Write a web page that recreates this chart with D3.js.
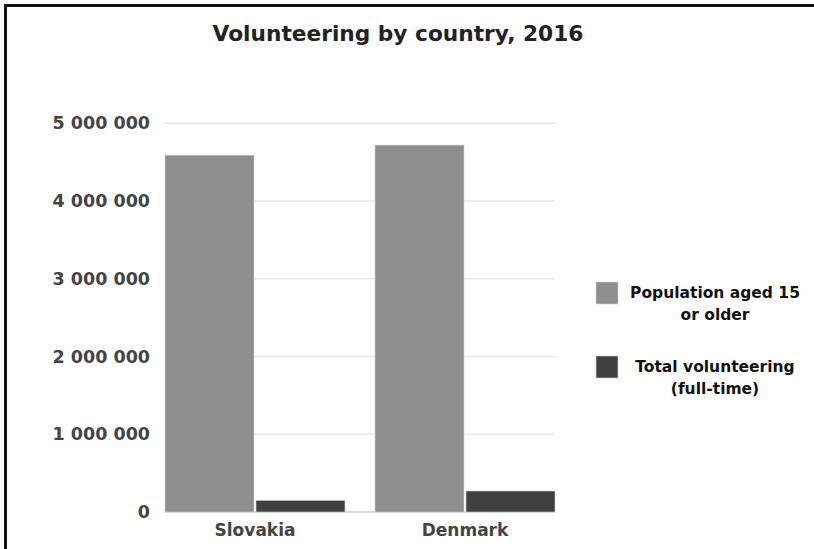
<!DOCTYPE html>
<html>
<head>
<meta charset="utf-8">
<script src="https://cdn.jsdelivr.net/npm/d3@7"></script>
<style>
  body { margin: 0; background: #fff; }
  text { font-family: "DejaVu Sans", sans-serif; font-weight: bold; }
</style>
</head>
<body>
<svg id="chart" width="814" height="549"></svg>
<script>
// data
const countries = ["Slovakia", "Denmark"];
const seriesKeys = ["Population aged 15 or older", "Total volunteering (full-time)"];
const population = [4590000, 4720000];
const volunteering = [150000, 270000];
const yTicks = [0, 1000000, 2000000, 3000000, 4000000, 5000000];
const legendLines = [["Population aged 15", "or older"], ["Total volunteering", "(full-time)"]];
const colors = ["#8e8e8e", "#404040"];

const width = 814, height = 549;
const margins = { top: 123.3, right: 259, bottom: 37, left: 165 };

const svg = d3.select("#chart");

// frame (only top and left edge visible in the picture)
svg.append("path")
	.attr("d", "M5.5," + height + " L5.5,5.5 L" + width + ",5.5")
	.attr("fill", "none")
	.attr("stroke", "#111")
	.attr("stroke-width", 3);

// title
svg.append("text")
	.attr("x", 398)
	.attr("y", 40.5)
	.attr("text-anchor", "middle")
	.style("font-size", "21.7px")
	.style("fill", "#222")
	.text("Volunteering by country, 2016");

const x0 = d3.scaleBand()
	.domain(countries)
	.range([margins.left, width - margins.right])
	.paddingInner(30 / 210)
	.paddingOuter(0);

const x1 = d3.scaleBand()
	.domain(seriesKeys)
	.range([0, x0.bandwidth()]);

const y = d3.scaleLinear()
	.domain([0, 5000000])
	.range([height - margins.bottom, margins.top]);

const locale = d3.formatLocale({ decimal: ".", thousands: " ", grouping: [3], currency: ["", ""] });
const fmt = locale.format(",d");

// gridlines
const plotRight = x0.range()[1];
svg.append("g")
	.selectAll("line")
	.data(yTicks)
	.enter()
	.append("line")
	.attr("x1", margins.left)
	.attr("x2", plotRight)
	.attr("y1", d => y(d))
	.attr("y2", d => y(d))
	.attr("stroke", d => d === 0 ? "#cfcfcf" : "#e8e8e8")
	.attr("stroke-width", 1.5);

// y axis labels
const yAxis = svg.append("g")
	.attr("transform", "translate(" + (margins.left - 15) + ",0)")
	.call(d3.axisLeft(y).tickValues(yTicks).tickFormat(fmt).tickSize(0).tickPadding(0));
yAxis.select(".domain").remove();
yAxis.selectAll("text")
	.style("font-size", "17.5px")
	.style("font-family", "'DejaVu Sans', sans-serif")
	.style("font-weight", "bold")
	.attr("fill", "#444");

// bars
let rows = countries.map((c, i) => ({ country: c, values: [population[i], volunteering[i]] }));
const groups = svg.append("g")
	.selectAll("g")
	.data(rows)
	.enter()
	.append("g")
	.attr("transform", d => "translate(" + x0(d.country) + ",0)");

groups.selectAll("rect")
	.data(d => d.values.map((v, k) => ({ key: seriesKeys[k], value: v, k: k })))
	.enter()
	.append("rect")
	.attr("x", d => x1(d.key) + (d.k === 0 ? 0 : 1))
	.attr("y", d => y(d.value))
	.attr("width", x1.bandwidth() - 1)
	.attr("height", d => y(0) - y(d.value))
	.attr("fill", d => colors[d.k])
	.attr("stroke", "#d4d4d4")
	.attr("stroke-width", 0.6);

// x axis labels
const xAxis = svg.append("g")
	.attr("transform", "translate(0," + y(0) + ")")
	.call(d3.axisBottom(x0).tickSize(0).tickPadding(12));
xAxis.select(".domain").remove();
xAxis.selectAll("text")
	.style("font-size", "17px")
	.style("font-family", "'DejaVu Sans', sans-serif")
	.style("font-weight", "bold")
	.attr("fill", "#444");

// legend
const legend = svg.append("g")
	.selectAll("g")
	.data(seriesKeys)
	.enter()
	.append("g")
	.attr("transform", (d, i) => "translate(596," + (282 + i * 74) + ")");

legend.append("rect")
	.attr("width", 22)
	.attr("height", 22)
	.attr("fill", (d, i) => colors[i])
	.attr("stroke", "#d4d4d4")
	.attr("stroke-width", 0.6);

legend.append("text")
	.attr("text-anchor", "middle")
	.style("font-size", "15.5px")
	.style("fill", "#111")
	.selectAll("tspan")
	.data((d, i) => legendLines[i])
	.enter()
	.append("tspan")
	.attr("x", 119)
	.attr("y", (d, j) => 16 + j * 22)
	.text(d => d);
</script>
</body>
</html>
